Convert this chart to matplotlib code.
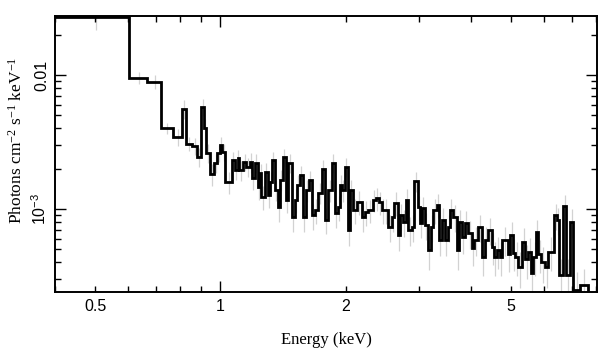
import matplotlib
matplotlib.use('Agg')
import matplotlib.pyplot as plt
from matplotlib.ticker import LogLocator, FuncFormatter

plt.rcParams['font.family'] = ['Liberation Sans', 'DejaVu Sans']
plt.rcParams['mathtext.default'] = 'regular'

# bin edges in keV
edges = [0.40, 0.604, 0.667, 0.721, 0.770, 0.810, 0.828, 0.856, 0.880, 0.900,
         0.915, 0.925, 0.946, 0.967, 0.983, 1.000, 1.011, 1.028, 1.063, 1.081,
         1.099, 1.111, 1.130, 1.155, 1.175, 1.188, 1.208, 1.228, 1.242, 1.255,
         1.277, 1.298, 1.312, 1.327, 1.349, 1.372, 1.387, 1.411, 1.434, 1.450,
         1.483, 1.508, 1.525, 1.550, 1.576, 1.603, 1.629, 1.657, 1.685, 1.713,
         1.751, 1.781, 1.811, 1.851, 1.882, 1.914, 1.935, 1.957, 1.990, 2.023,
         2.046, 2.080, 2.127, 2.186, 2.223, 2.260, 2.324, 2.363, 2.403, 2.443,
         2.484, 2.526, 2.582, 2.611, 2.670, 2.700, 2.745, 2.791, 2.822, 2.885,
         2.918, 2.983, 3.016, 3.050, 3.101, 3.153, 3.206, 3.242, 3.315, 3.352,
         3.408, 3.465, 3.523, 3.563, 3.623, 3.704, 3.745, 3.808, 3.872, 3.937,
         4.025, 4.070, 4.162, 4.255, 4.326, 4.399, 4.498, 4.548, 4.624, 4.702,
         4.755, 4.916, 4.970, 5.054, 5.110, 5.196, 5.313, 5.402, 5.493, 5.585,
         5.647, 5.742, 5.806, 5.904, 6.036, 6.137, 6.345, 6.452, 6.524, 6.670,
         6.782, 6.934, 7.050, 7.329, 7.662, 8.054]

# flux in units of 1e-3 photons cm^-2 s^-1 keV^-1
flux_e3 = [27.1, 9.5, 8.9, 4.0, 3.45, 5.6, 3.06, 2.95, 2.44, 5.77,
           4.0, 2.62, 1.82, 2.2, 2.62, 3.0, 2.66, 1.59, 2.32, 1.95,
           2.40, 1.95, 2.24, 2.06, 2.24, 1.70, 2.20, 1.46, 1.85, 1.23,
           1.89, 1.27, 1.59, 2.32, 1.39, 1.03, 1.65, 2.44, 1.17, 2.20,
           0.87, 1.17, 1.51, 1.79, 0.87, 1.39, 1.65, 0.90, 0.98, 1.32,
           1.99, 0.83, 1.39, 2.20, 0.93, 1.03, 1.51, 1.39, 2.06, 0.70,
           1.39, 0.98, 1.13, 0.87, 0.95, 0.98, 1.17, 1.20, 1.12, 0.98,
           0.98, 0.73, 0.87, 1.11, 0.64, 0.90, 0.80, 1.17, 0.70, 0.73,
           1.62, 1.03, 0.79, 1.02, 0.76, 0.49, 0.73, 0.98, 1.07, 0.59,
           0.83, 0.59, 0.73, 0.98, 0.87, 0.49, 0.80, 0.62, 0.79, 0.66,
           0.51, 0.59, 0.73, 0.44, 0.59, 0.70, 0.52, 0.44, 0.49, 0.44,
           0.59, 0.46, 0.64, 0.47, 0.44, 0.37, 0.57, 0.42, 0.48, 0.33,
           0.44, 0.67, 0.46, 0.40, 0.37, 0.48, 0.90, 0.83, 0.32, 1.05,
           0.32, 0.80, 0.25, 0.27, 0.01]

# relative 1-sigma errors per bin (last dummy bin has none)
rel_err = [0.20, 0.10, 0.12, 0.10, 0.14, 0.16, 0.12, 0.14, 0.16, 0.14,
           0.18, 0.16, 0.18, 0.16, 0.15, 0.14, 0.15, 0.18, 0.14, 0.16,
           0.15, 0.17, 0.15, 0.16, 0.17, 0.18, 0.16, 0.20, 0.17, 0.20,
           0.17, 0.20, 0.18, 0.15, 0.18, 0.22, 0.18, 0.15, 0.20, 0.16,
           0.22, 0.20, 0.18, 0.17, 0.22, 0.19, 0.17, 0.22, 0.21, 0.18,
           0.16, 0.22, 0.19, 0.16, 0.22, 0.21, 0.18, 0.19, 0.16, 0.24,
           0.19, 0.21, 0.20, 0.22, 0.21, 0.20, 0.19, 0.19, 0.20, 0.21,
           0.21, 0.23, 0.22, 0.20, 0.24, 0.22, 0.23, 0.20, 0.24, 0.23,
           0.17, 0.21, 0.23, 0.21, 0.23, 0.28, 0.23, 0.21, 0.20, 0.25,
           0.22, 0.25, 0.23, 0.21, 0.22, 0.28, 0.22, 0.25, 0.22, 0.24,
           0.27, 0.25, 0.23, 0.28, 0.25, 0.23, 0.27, 0.28, 0.27, 0.28,
           0.25, 0.27, 0.24, 0.27, 0.28, 0.30, 0.26, 0.29, 0.27, 0.32,
           0.28, 0.24, 0.28, 0.30, 0.31, 0.28, 0.22, 0.23, 0.33, 0.22,
           0.33, 0.24, 0.35, 0.33]

flux = [f * 1e-3 for f in flux_e3]
n_err = len(rel_err)
centers = [(edges[i] + edges[i + 1]) / 2 for i in range(n_err)]
yerr = [flux[i] * rel_err[i] for i in range(n_err)]

fig = plt.figure(figsize=(6.08, 3.57), dpi=100)
ax = fig.add_axes([0.0905, 0.182, 0.8915, 0.773])

ax.errorbar(centers, flux[:n_err], yerr=yerr, fmt='none',
            ecolor='#d2d2d2', elinewidth=0.9, zorder=1)
ax.stairs(flux, edges, color='black', linewidth=2.0, baseline=None, zorder=2)

ax.set_xscale('log')
ax.set_yscale('log')
ax.set_xlim(0.4, 8.05)
ax.set_ylim(2.4e-4, 0.0275)

ax.xaxis.set_major_locator(LogLocator(base=10))
ax.xaxis.set_minor_locator(LogLocator(base=10, subs=range(2, 10)))
ax.xaxis.set_major_formatter(FuncFormatter(lambda v, p: '%g' % v))
ax.xaxis.set_minor_formatter(FuncFormatter(
    lambda v, p: '%g' % v if round(v, 3) in (0.5, 2.0, 5.0) else ''))

ax.yaxis.set_major_locator(LogLocator(base=10))
ax.yaxis.set_minor_locator(LogLocator(base=10, subs=range(2, 10)))
ylabels = {0.01: '0.01', 0.001: '10$^{-3}$'}
ax.yaxis.set_major_formatter(FuncFormatter(
    lambda v, p: ylabels.get(round(v, 6), '')))
ax.yaxis.set_minor_formatter(FuncFormatter(lambda v, p: ''))

ax.tick_params(which='both', direction='in', top=True, right=True,
               labelsize=11.5, width=1.0)
ax.tick_params(which='major', length=8)
ax.tick_params(which='minor', length=4.5)
ax.tick_params(axis='y', which='major', labelrotation=90, pad=4)
for lab in ax.get_yticklabels():
    lab.set_verticalalignment('center')
ax.tick_params(axis='x', which='both', pad=5)

for sp in ax.spines.values():
    sp.set_linewidth(1.4)

serif = ['Liberation Serif', 'DejaVu Serif']
ax.set_xlabel('Energy (keV)', family=serif, fontsize=12, labelpad=13)
ax.set_ylabel('Photons cm$^{-2}$ s$^{-1}$ keV$^{-1}$', family=serif,
              fontsize=12.5)
ax.yaxis.set_label_coords(-0.055, 0.55)

fig.savefig('out.png', dpi=100)
